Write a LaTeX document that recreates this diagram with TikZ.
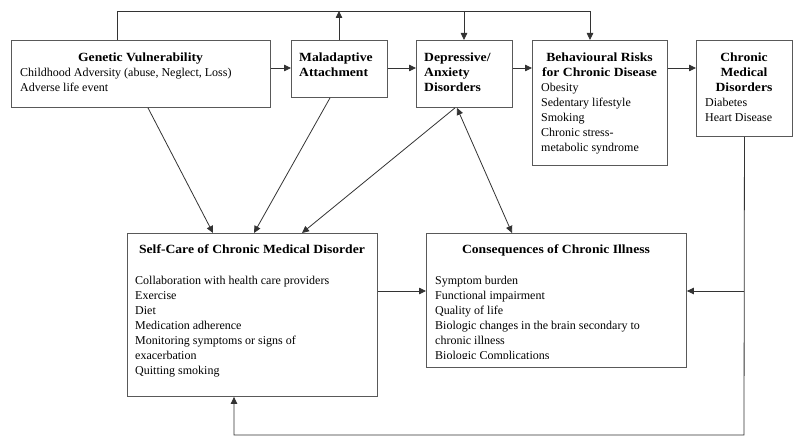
\documentclass[tikz,border=0pt]{standalone}
\usepackage{fontspec}
\setmainfont{Liberation Serif}[BoldFeatures={FakeStretch=1.09}]
\usetikzlibrary{arrows.meta}
\begin{document}
\begin{tikzpicture}[x=1pt,y=-1pt,
  box/.style={draw=black!65,line width=0.9pt,anchor=north west,inner sep=0pt},
  txt/.style={inner sep=0pt,align=left,font=\fontsize{12}{15}\selectfont},
  ttl/.style={inner sep=0pt,align=center,font=\fontsize{12.5}{15}\selectfont\bfseries},
  btl/.style={inner sep=0pt,align=left,font=\fontsize{12.5}{15}\selectfont\bfseries},
  wire/.style={line width=0.8pt,draw=black!80},
  conn/.style={wire,-{Triangle[length=7pt,width=6.5pt]}},
  both/.style={wire,{Triangle[length=7pt,width=6.5pt]}-{Triangle[length=7pt,width=6.5pt]}}]
\useasboundingbox (0,0) rectangle (800,446);
% boxes
\node[box,minimum width=259pt,minimum height=67pt] (gen) at (11,40) {};
\node[box,minimum width=96pt,minimum height=57pt] (mal) at (291,40) {};
\node[box,minimum width=96pt,minimum height=67pt] (dep) at (416,40) {};
\node[box,minimum width=135pt,minimum height=125pt] (beh) at (532,40) {};
\node[box,minimum width=96pt,minimum height=96pt] (chr) at (696,40) {};
\node[box,minimum width=250pt,minimum height=163pt] (self) at (127,233) {};
\node[box,minimum width=260pt,minimum height=134pt] (cons) at (426,233) {};
% texts
\node[ttl,anchor=north] (genT) at (140.5,50.5) {\strut Genetic Vulnerability};
\node[txt,anchor=north west] (genL) at (20,65.5) {\strut Childhood Adversity (abuse, Neglect, Loss)\\Adverse life event};
\node[btl,anchor=north west] (malT) at (299,50.5) {\strut Maladaptive\\Attachment};
\node[btl,anchor=north west] (depT) at (424,50.5) {\strut Depressive/\\Anxiety\\Disorders};
\node[ttl,anchor=north] (behT) at (599.5,50.5) {\strut Behavioural Risks\\for Chronic Disease};
\node[txt,anchor=north west] (behL) at (541,80.5) {\strut Obesity\\Sedentary lifestyle\\Smoking\\Chronic stress-\\metabolic syndrome};
\node[ttl,anchor=north] (chrT) at (744,50.5) {\strut Chronic\\Medical\\Disorders};
\node[txt,anchor=north west] (chrL) at (705,95.5) {\strut Diabetes\\Heart Disease};
\node[ttl,anchor=north] (selfT) at (252,242.5) {\strut Self-Care of Chronic Medical Disorder};
\node[txt,anchor=north west] (selfL) at (135,273.5) {\strut Collaboration with health care providers\\Exercise\\Diet\\Medication adherence\\Monitoring symptoms or signs of\\exacerbation\\Quitting smoking};
\node[ttl,anchor=north] (consT) at (556,242.5) {\strut Consequences of Chronic Illness};
\begin{scope}
\clip (426,233) rectangle (686,358);
\node[txt,anchor=north west] (consL) at (435,273.5) {\strut Symptom burden\\Functional impairment\\Quality of life\\Biologic changes in the brain secondary to\\chronic illness\\Biologic Complications};
\end{scope}
% helper coordinates
\coordinate (h1) at (0,68);
\coordinate (h2) at (0,291);
\coordinate (a1) at (117,11);
\coordinate (a2) at (339,11);
\coordinate (a3) at (464,11);
\coordinate (a4) at (590,11);
\coordinate (d1) at (148,0);
\coordinate (e1) at (213,0);
\coordinate (d2) at (330,0);
\coordinate (e2) at (254,0);
\coordinate (d3) at (455,0);
\coordinate (e3) at (302,0);
\coordinate (d4) at (457,0);
\coordinate (e4) at (512,0);
\coordinate (b1) at (744,435);
\coordinate (b2) at (234,435);
% horizontal chain
\draw[conn] (gen.east |- h1) -- (mal.west |- h1);
\draw[conn] (mal.east |- h1) -- (dep.west |- h1);
\draw[conn] (dep.east |- h1) -- (beh.west |- h1);
\draw[conn] (beh.east |- h1) -- (chr.west |- h1);
% top loop
\draw[conn] (a1 |- gen.north) -- (a1) -- (a4) -- (a4 |- beh.north);
\draw[conn] (a3) -- (a3 |- dep.north);
\draw[conn] (a2 |- mal.north) -- (a2);
% diagonals
\draw[conn] (d1 |- gen.south) -- (e1 |- self.north);
\draw[conn] (d2 |- mal.south) -- (e2 |- self.north);
\draw[conn] (d3 |- dep.south) -- (e3 |- self.north);
\draw[both] (d4 |- dep.south) -- (e4 |- cons.north);
% lower
\draw[conn] (self.east |- h2) -- (cons.west |- h2);
\draw[conn] (chr.south) -- (b1) -- (b2) -- (b2 |- self.south);
\draw[conn] (chr.south |- h2) -- (cons.east |- h2);
\end{tikzpicture}
\end{document}
